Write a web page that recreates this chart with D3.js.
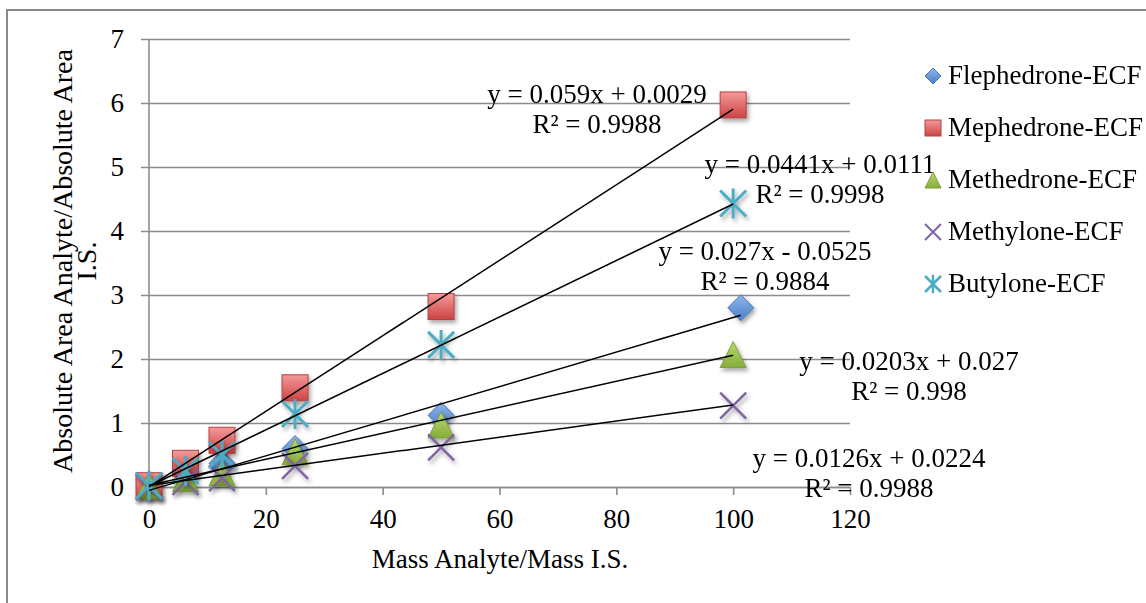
<!DOCTYPE html>
<html>
<head>
<meta charset="utf-8">
<script src="https://cdn.jsdelivr.net/npm/d3@7"></script>
<style>
  body { margin: 0; background: #fff; }
  svg text { font-family: "Liberation Serif", "Times New Roman", serif; fill: #000; }
</style>
</head>
<body>
<div id="chart"></div>
<script>
// x concentrations (Mass Analyte / Mass I.S.)
var xLevels = [0, 6.25, 12.5, 25, 50, 100];
var xFleph = [0, 6.25, 12.5, 25, 50, 101.3];

var seriesNames = ["Flephedrone-ECF", "Mephedrone-ECF", "Methedrone-ECF", "Methylone-ECF", "Butylone-ECF"];
var flephedrone = [0.0, 0.2, 0.37, 0.6, 1.12, 2.8];
var mephedrone = [0.02, 0.37, 0.73, 1.55, 2.82, 5.97];
var methedrone = [0.02, 0.13, 0.22, 0.55, 0.97, 2.07];
var methylone = [0.0, 0.08, 0.14, 0.33, 0.62, 1.27];
var butylone = [0.02, 0.25, 0.5, 1.14, 2.22, 4.43];

// trendline fits as printed on the chart
var slopes = [0.027, 0.059, 0.0203, 0.0126, 0.0441];
var intercepts = [-0.0525, 0.0029, 0.027, 0.0224, 0.0111];
var eqLabels = ["y = 0.027x - 0.0525", "y = 0.059x + 0.0029", "y = 0.0203x + 0.027", "y = 0.0126x + 0.0224", "y = 0.0441x + 0.0111"];
var r2Labels = ["R² = 0.9884", "R² = 0.9988", "R² = 0.998", "R² = 0.9988", "R² = 0.9998"];

var xTicks = [0, 20, 40, 60, 80, 100, 120];
var yTicks = [0, 1, 2, 3, 4, 5, 6, 7];

var width = 1146,
  height = 603;

var svg = d3.select('#chart').append('svg')
  .attr('width', width)
  .attr('height', height);

var defs = svg.append("defs");

var fills = [
  ["#8fb6ea", "#4a7fc8"],
  ["#f49a9a", "#cc4444"],
  ["#b8d96e", "#86ad3a"],
  ["#8064a2", "#8064a2"],
  ["#4bacc6", "#4bacc6"]
];
var strokes = ["#4a78b8", "#b84040", "#7f9e40", "#8064a2", "#4bacc6"];

fills.forEach(function(f, i) {
  var g = defs.append("linearGradient")
    .attr("id", "grad" + i)
    .attr("x1", 0).attr("y1", 0).attr("x2", 0).attr("y2", 1);
  g.append("stop").attr("offset", "0%").attr("stop-color", f[0]);
  g.append("stop").attr("offset", "100%").attr("stop-color", f[1]);
});

var shadow = defs.append("filter")
  .attr("id", "shadow")
  .attr("x", "-50%").attr("y", "-50%")
  .attr("width", "200%").attr("height", "200%");
shadow.append("feDropShadow")
  .attr("dx", 2).attr("dy", 3)
  .attr("stdDeviation", 2)
  .attr("flood-color", "#000")
  .attr("flood-opacity", 0.35);

// outer chart frame
svg.append("rect")
  .attr("x", 7)
  .attr("y", 10)
  .attr("width", 1300)
  .attr("height", 800)
  .style("fill", "none")
  .style("stroke", "#8c8c8c")
  .style("stroke-width", 2);

var x = d3.scaleLinear().domain([0, 120]).range([149, 850]);
var y = d3.scaleLinear().domain([0, 7]).range([487, 39]);

// y axis with gridlines
var yAxis = svg.append("g")
  .attr("transform", "translate(" + x(0) + ",0)")
  .call(d3.axisLeft(y).tickValues(yTicks).tickFormat(d3.format("d"))
    .tickSize(-(x(120) - x(0))).tickSizeOuter(0).tickPadding(25));
yAxis.select(".domain").remove();
yAxis.selectAll(".tick line")
  .attr("x1", -8)
  .style("stroke", "#8c8c8c")
  .style("stroke-width", 1.6);
yAxis.selectAll(".tick text")
  .style("font-size", "27px");

svg.append("line")
  .attr("x1", x(0)).attr("x2", x(0))
  .attr("y1", y(7)).attr("y2", y(0))
  .style("stroke", "#8c8c8c")
  .style("stroke-width", 1.6);

// x axis
var xAxis = svg.append("g")
  .attr("transform", "translate(0," + y(0) + ")")
  .call(d3.axisBottom(x).tickValues(xTicks).tickFormat(d3.format("d"))
    .tickSize(8).tickSizeOuter(0).tickPadding(14));
xAxis.select(".domain")
  .style("stroke", "#8c8c8c")
  .style("stroke-width", 1.6);
xAxis.selectAll(".tick line")
  .style("stroke", "#8c8c8c")
  .style("stroke-width", 1.6);
xAxis.selectAll(".tick text")
  .style("font-size", "27px");

// axis titles
svg.append("text")
  .text("Mass Analyte/Mass I.S.")
  .attr("x", 500)
  .attr("y", 568)
  .attr("text-anchor", "middle")
  .style("font-size", "27px");

var yTitle = svg.append("text")
  .attr("transform", "translate(72,261) rotate(-90)")
  .attr("text-anchor", "middle")
  .style("font-size", "28px");
yTitle.append("tspan").attr("x", 0).attr("y", 0).text("Absolute Area Analyte/Absolute Area");
yTitle.append("tspan").attr("x", 0).attr("y", 24).text("I.S.");

// marker drawing
function drawMarker(g, i, s) {
  var h = s / 2;
  if (i === 0) {
    g.append("path")
      .attr("d", "M0," + (-h) + "L" + h + ",0L0," + h + "L" + (-h) + ",0Z")
      .style("fill", "url(#grad0)").style("stroke", strokes[0]).style("stroke-width", 1);
  } else if (i === 1) {
    g.append("rect")
      .attr("x", -h).attr("y", -h).attr("width", s).attr("height", s)
      .style("fill", "url(#grad1)").style("stroke", strokes[1]).style("stroke-width", 1);
  } else if (i === 2) {
    g.append("path")
      .attr("d", "M0," + (-h) + "L" + h + "," + h + "L" + (-h) + "," + h + "Z")
      .style("fill", "url(#grad2)").style("stroke", strokes[2]).style("stroke-width", 1);
  } else if (i === 3) {
    g.append("path")
      .attr("d", "M" + (-h) + "," + (-h) + "L" + h + "," + h + "M" + h + "," + (-h) + "L" + (-h) + "," + h)
      .style("fill", "none").style("stroke", strokes[3]).style("stroke-width", s > 20 ? 2.5 : 2);
  } else {
    g.append("path")
      .attr("d", "M" + (-h) + "," + (-h) + "L" + h + "," + h + "M" + h + "," + (-h) + "L" + (-h) + "," + h +
        "M0," + (-h * 1.15) + "L0," + (h * 1.15))
      .style("fill", "none").style("stroke", strokes[4]).style("stroke-width", s > 20 ? 3 : 2.5);
  }
}

var seriesY = [flephedrone, mephedrone, methedrone, methylone, butylone];
var seriesX = [xFleph, xLevels, xLevels, xLevels, xLevels];

var pointsLayer = svg.append("g");
seriesY.forEach(function(vals, i) {
  var sg = pointsLayer.append("g").attr("filter", "url(#shadow)");
  sg.selectAll("g")
    .data(vals.map(function(v, j) { return [seriesX[i][j], v]; }))
    .enter().append("g")
    .attr("transform", function(d) { return "translate(" + x(d[0]) + "," + y(d[1]) + ")"; })
    .each(function() { drawMarker(d3.select(this), i, 26); });
});

// trendlines
seriesY.forEach(function(vals, i) {
  var xMax = d3.max(seriesX[i]);
  svg.append("line")
    .attr("x1", x(0))
    .attr("y1", y(intercepts[i]))
    .attr("x2", x(xMax))
    .attr("y2", y(slopes[i] * xMax + intercepts[i]))
    .style("stroke", "#000")
    .style("stroke-width", 1.5);
});

// equation labels
var eqPos = [[765, 260], [597, 103], [909, 370], [869, 467], [820, 173]];
eqPos.forEach(function(p, i) {
  svg.append("text")
    .text(eqLabels[i])
    .attr("x", p[0]).attr("y", p[1])
    .attr("text-anchor", "middle")
    .style("font-size", "27px");
  svg.append("text")
    .text(r2Labels[i])
    .attr("x", p[0]).attr("y", p[1] + 30)
    .attr("text-anchor", "middle")
    .style("font-size", "27px");
});

// legend
var legend = svg.append("g").attr("transform", "translate(933,76)");
seriesNames.forEach(function(name, i) {
  var row = legend.append("g").attr("transform", "translate(0," + (i * 52) + ")");
  drawMarker(row.append("g"), i, 16);
  row.append("text")
    .text(name)
    .attr("x", 15)
    .attr("y", 8)
    .style("font-size", "27px");
});
</script>
</body>
</html>
